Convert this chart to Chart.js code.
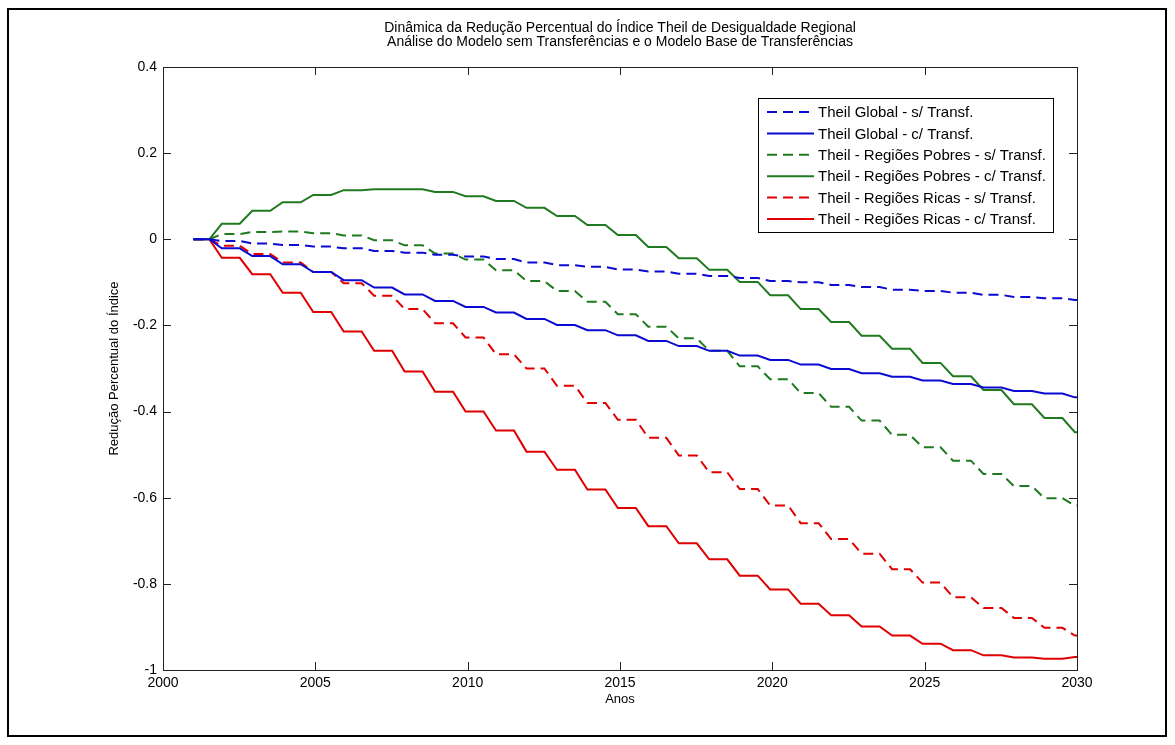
<!DOCTYPE html>
<html>
<head>
<meta charset="utf-8">
<script src="https://cdn.jsdelivr.net/npm/chart.js@4.4.0/dist/chart.umd.min.js"></script>
<style>
  body { margin: 0; background: #fff; }
  #wrap { width: 1175px; height: 745px; }
</style>
</head>
<body>
<div id="wrap"><canvas id="theil" width="1175" height="745"></canvas></div>
<script>
// one plateau per year
const years = [2001, 2002, 2003, 2004, 2005, 2006, 2007, 2008, 2009, 2010,
               2011, 2012, 2013, 2014, 2015, 2016, 2017, 2018, 2019, 2020,
               2021, 2022, 2023, 2024, 2025, 2026, 2027, 2028, 2029, 2030];

const globalSem = [0, -0.004, -0.010, -0.013, -0.017, -0.021, -0.027, -0.031, -0.036, -0.040,
                   -0.046, -0.054, -0.060, -0.064, -0.070, -0.075, -0.080, -0.085, -0.090, -0.097,
                   -0.100, -0.106, -0.111, -0.117, -0.120, -0.124, -0.129, -0.134, -0.137, -0.141];
const globalCom = [0, -0.021, -0.039, -0.058, -0.076, -0.095, -0.112, -0.128, -0.143, -0.157,
                   -0.170, -0.185, -0.199, -0.211, -0.223, -0.236, -0.248, -0.259, -0.270, -0.280,
                   -0.291, -0.301, -0.311, -0.319, -0.328, -0.336, -0.344, -0.352, -0.358, -0.367];
const pobresSem = [0, 0.012, 0.017, 0.018, 0.014, 0.009, -0.002, -0.014, -0.033, -0.047,
                   -0.072, -0.097, -0.120, -0.145, -0.174, -0.203, -0.230, -0.259, -0.295, -0.325,
                   -0.357, -0.389, -0.421, -0.454, -0.483, -0.514, -0.545, -0.573, -0.601, -0.618];
const pobresCom = [0, 0.036, 0.066, 0.086, 0.103, 0.114, 0.116, 0.116, 0.110, 0.100,
                   0.089, 0.073, 0.054, 0.033, 0.010, -0.018, -0.044, -0.071, -0.099, -0.130,
                   -0.162, -0.192, -0.224, -0.254, -0.287, -0.318, -0.350, -0.383, -0.415, -0.448];
const ricasSem = [0, -0.015, -0.034, -0.054, -0.076, -0.102, -0.131, -0.162, -0.195, -0.228,
                  -0.267, -0.300, -0.340, -0.380, -0.419, -0.461, -0.502, -0.541, -0.580, -0.618,
                  -0.659, -0.696, -0.730, -0.766, -0.797, -0.831, -0.856, -0.879, -0.902, -0.920];
const ricasCom = [0, -0.043, -0.081, -0.124, -0.169, -0.214, -0.259, -0.307, -0.354, -0.400,
                  -0.444, -0.493, -0.535, -0.581, -0.624, -0.666, -0.706, -0.743, -0.781, -0.813,
                  -0.846, -0.873, -0.899, -0.920, -0.939, -0.954, -0.966, -0.971, -0.974, -0.970];

const xTicks = [2000, 2005, 2010, 2015, 2020, 2025, 2030];
const yTicks = [0.4, 0.2, 0, -0.2, -0.4, -0.6, -0.8, -1];

const titleLines = [
    'Dinâmica da Redução Percentual do Índice Theil de Desigualdade Regional',
    'Análise do Modelo sem Transferências e o Modelo Base de Transferências'
];

const FONT = '"Liberation Sans", Arial, sans-serif';
const BLUE = '#0a0ad2';
const GREEN = '#1f7a1f';
const RED = '#e00000';
const DASH = [10, 6];

// each year's value is held for most of the year, then falls to the next one
const holdBefore = 0.07;
const holdAfter = 0.52;

function stepPoints(values) {
    const first = years[0];
    const last = years[years.length - 1];
    const pts = [];
    values.forEach((v, i) => {
        pts.push({ x: Math.max(years[i] - holdBefore, first), y: v });
        pts.push({ x: Math.min(years[i] + holdAfter, last), y: v });
    });
    return pts;
}

function series(label, values, color, dashed) {
    return {
        label: label,
        data: stepPoints(values),
        borderColor: color,
        borderWidth: 2,
        borderDash: dashed ? DASH : [],
        pointRadius: 0,
        tension: 0,
        fill: false
    };
}

// white page, outer frame and the two title lines
const pageFrame = {
    id: 'pageFrame',
    beforeDraw(chart) {
        const { ctx, width, height } = chart;
        ctx.save();
        ctx.fillStyle = '#fff';
        ctx.fillRect(0, 0, width, height);
        ctx.restore();
    },
    afterDraw(chart) {
        const { ctx, chartArea } = chart;
        ctx.save();
        ctx.strokeStyle = '#000';
        ctx.lineWidth = 2;
        ctx.strokeRect(8, 9, 1158, 727);
        ctx.fillStyle = '#000';
        ctx.font = '14px ' + FONT;
        ctx.textAlign = 'center';
        ctx.textBaseline = 'middle';
        const cx = (chartArea.left + chartArea.right) / 2;
        ctx.fillText(titleLines[0], cx, 28);
        ctx.fillText(titleLines[1], cx, 42);
        ctx.restore();
    }
};

// matlab style box with inward ticks on all four sides
const axesBox = {
    id: 'axesBox',
    afterDatasetsDraw(chart) {
        const { ctx, chartArea: a, scales } = chart;
        const len = 8;
        ctx.save();
        ctx.strokeStyle = '#222';
        ctx.lineWidth = 1;
        ctx.beginPath();
        xTicks.forEach(t => {
            const px = Math.round(scales.x.getPixelForValue(t)) + 0.5;
            ctx.moveTo(px, a.bottom); ctx.lineTo(px, a.bottom - len);
            ctx.moveTo(px, a.top); ctx.lineTo(px, a.top + len);
        });
        yTicks.forEach(t => {
            const py = Math.round(scales.y.getPixelForValue(t)) + 0.5;
            ctx.moveTo(a.left, py); ctx.lineTo(a.left + len, py);
            ctx.moveTo(a.right, py); ctx.lineTo(a.right - len, py);
        });
        ctx.stroke();
        ctx.strokeRect(Math.round(a.left) + 0.5, Math.round(a.top) + 0.5,
                       Math.round(a.right - a.left), Math.round(a.bottom - a.top));
        ctx.restore();
    }
};

// legend box inside the axes, top right
const insideLegend = {
    id: 'insideLegend',
    afterDatasetsDraw(chart) {
        const { ctx, chartArea } = chart;
        const sets = chart.data.datasets;
        ctx.save();
        ctx.font = '15px ' + FONT;
        const textW = Math.max(...sets.map(d => ctx.measureText(d.label).width));
        const rowH = 21.4;
        const w = Math.round(9 + 47 + 4 + textW + 7);
        const h = Math.round(sets.length * rowH + 6);
        const right = Math.round(chartArea.right) - 24;
        const left = right - w;
        const top = Math.round(chartArea.top) + 31;
        ctx.fillStyle = '#fff';
        ctx.fillRect(left, top, w, h);
        ctx.strokeStyle = '#000';
        ctx.lineWidth = 1;
        ctx.strokeRect(left + 0.5, top + 0.5, w, h);
        sets.forEach((d, i) => {
            const y = top + 14 + i * rowH;
            ctx.strokeStyle = d.borderColor;
            ctx.lineWidth = d.borderWidth;
            ctx.setLineDash(d.borderDash);
            ctx.beginPath();
            ctx.moveTo(left + 9, y);
            ctx.lineTo(left + 56, y);
            ctx.stroke();
            ctx.setLineDash([]);
            ctx.fillStyle = '#000';
            ctx.textAlign = 'left';
            ctx.textBaseline = 'middle';
            ctx.fillText(d.label, left + 60, y + 1);
        });
        ctx.restore();
    }
};

const ctx = document.getElementById('theil');

new Chart(ctx, {
    type: 'line',
    data: {
        datasets: [
            series('Theil Global - s/ Transf.', globalSem, BLUE, true),
            series('Theil Global - c/ Transf.', globalCom, BLUE, false),
            series('Theil - Regiões Pobres - s/ Transf.', pobresSem, GREEN, true),
            series('Theil - Regiões Pobres - c/ Transf.', pobresCom, GREEN, false),
            series('Theil - Regiões Ricas - s/ Transf.', ricasSem, RED, true),
            series('Theil - Regiões Ricas - c/ Transf.', ricasCom, RED, false)
        ]
    },
    options: {
        responsive: false,
        animation: false,
        layout: { padding: { left: 107, right: 98, top: 67, bottom: 38 } },
        plugins: {
            legend: { display: false },
            title: { display: false },
            tooltip: { enabled: false }
        },
        scales: {
            x: {
                type: 'linear',
                min: 2000,
                max: 2030,
                grid: { display: false, drawTicks: false },
                border: { display: false },
                afterBuildTicks: scale => { scale.ticks = xTicks.map(v => ({ value: v })); },
                afterFit: scale => { scale.height = 37; },
                ticks: {
                    padding: 5,
                    color: '#000',
                    font: { family: FONT, size: 14 },
                    maxRotation: 0,
                    callback: v => String(v)
                },
                title: {
                    display: true,
                    text: 'Anos',
                    color: '#000',
                    padding: 0,
                    font: { family: FONT, size: 13 }
                }
            },
            y: {
                min: -1,
                max: 0.4,
                grid: { display: false, drawTicks: false },
                border: { display: false },
                afterBuildTicks: scale => { scale.ticks = yTicks.map(v => ({ value: v })); },
                afterFit: scale => { scale.width = 56; },
                ticks: {
                    padding: 6,
                    color: '#000',
                    font: { family: FONT, size: 14 },
                    callback: v => String(Math.round(v * 10) / 10)
                },
                title: {
                    display: true,
                    text: 'Redução Percentual do Índice',
                    color: '#000',
                    padding: 0,
                    font: { family: FONT, size: 13 }
                }
            }
        }
    },
    plugins: [pageFrame, axesBox, insideLegend]
});
</script>
</body>
</html>
